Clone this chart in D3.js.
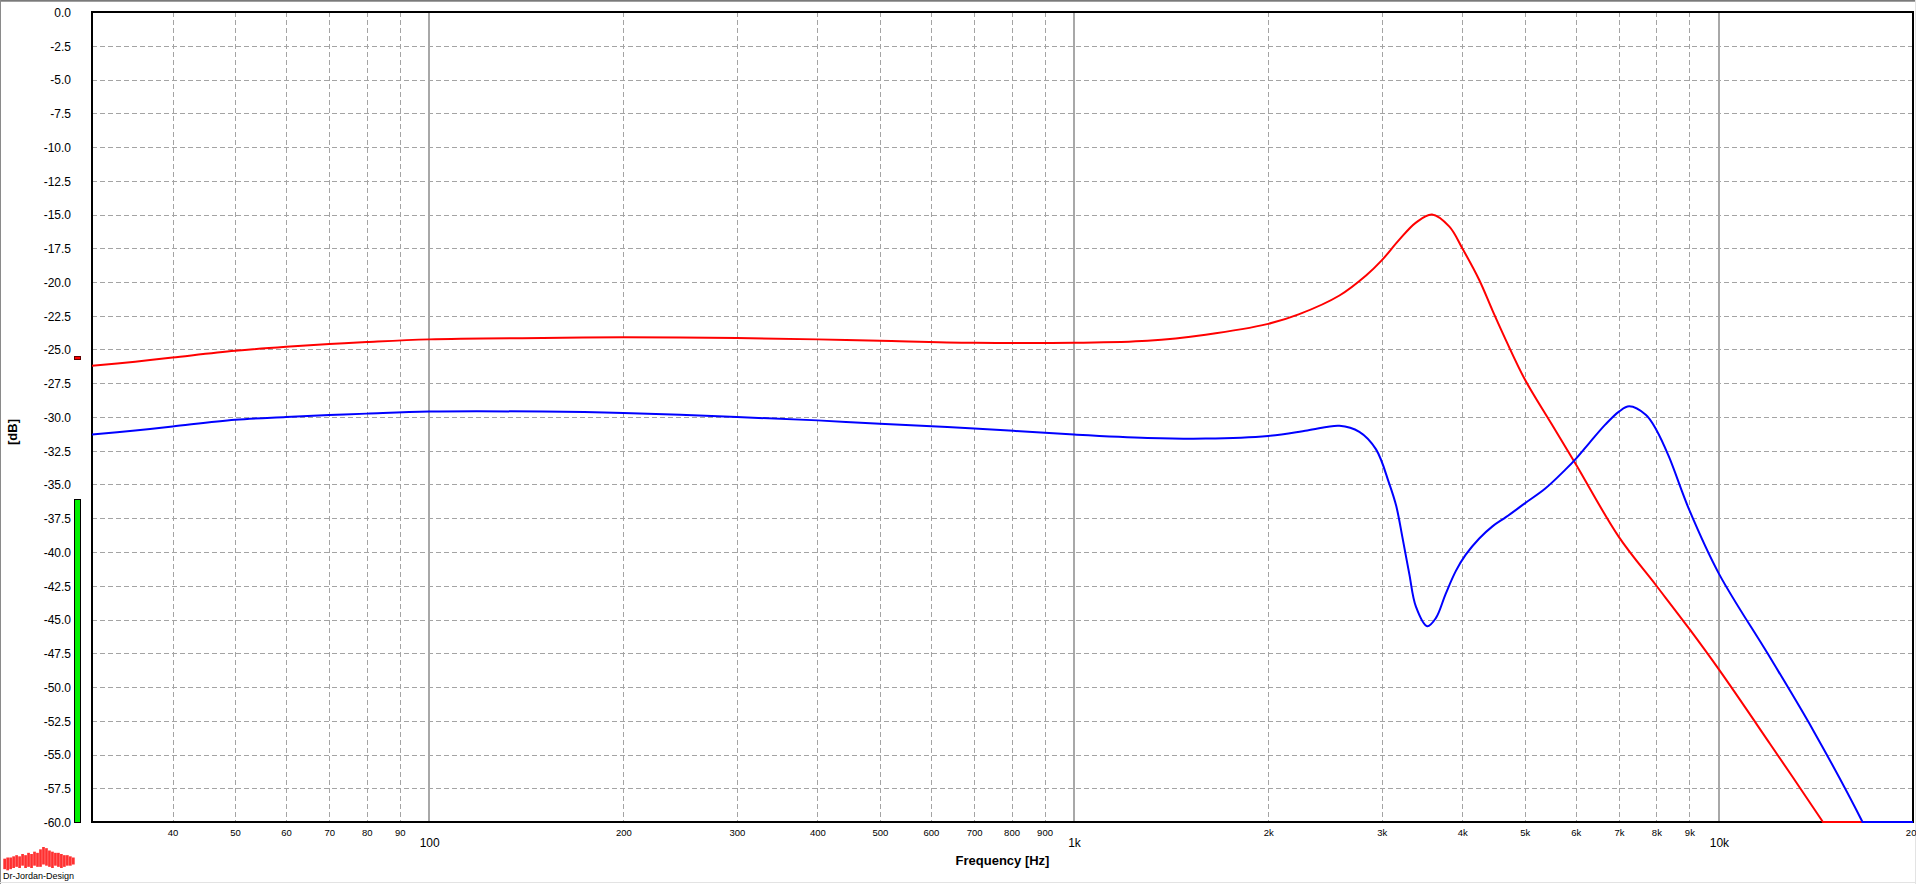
<!DOCTYPE html>
<html><head><meta charset="utf-8">
<script src="https://cdn.jsdelivr.net/npm/d3@7"></script>
<style>
html,body{margin:0;padding:0;background:#fff;overflow:hidden}
svg{display:block;font-family:"Liberation Sans",Arial,sans-serif}
</style></head><body>
<svg id="c" width="1916" height="884"></svg>
<script>
// ---------------- DATA ----------------
const redFreq = [30,35,40,50,60,70,80,100,150,200,300,400,500,700,1000,1300,1600,2000,2230,2580,2840,3000,3190,3390,3590,3820,4000,4250,4455,4674,5000,5500,6000,7000,8000,9000,10000,12000,14500,17000,20000];
const redDb   = [-26.2,-25.9,-25.6,-25.1,-24.8,-24.6,-24.45,-24.25,-24.15,-24.1,-24.15,-24.25,-24.35,-24.5,-24.5,-24.35,-23.9,-23.1,-22.4,-21.0,-19.5,-18.4,-16.9,-15.6,-15.0,-15.9,-17.5,-19.85,-22.1,-24.3,-27.2,-30.5,-33.5,-38.9,-42.5,-45.7,-48.7,-54.2,-60.0,-65.0,-70.0];

const blueFreq = [30,35,40,50,60,70,80,100,150,200,300,400,500,700,1000,1300,1600,2000,2300,2580,2770,2940,3080,3160,3230,3310,3390,3530,3640,3770,3910,4050,4250,4455,4680,5000,5380,5780,6000,6290,6670,7000,7260,7710,8000,8360,9000,10000,12000,14000,16700,20000];
const blueDb   = [-31.3,-31.0,-30.7,-30.2,-30.0,-29.85,-29.75,-29.6,-29.6,-29.7,-30.0,-30.25,-30.5,-30.85,-31.3,-31.55,-31.6,-31.4,-31.0,-30.65,-31.1,-32.4,-34.9,-36.6,-38.9,-41.6,-44.05,-45.5,-44.9,-43.1,-41.4,-40.2,-39.0,-38.1,-37.4,-36.4,-35.3,-33.9,-33.1,-31.95,-30.55,-29.6,-29.2,-29.85,-30.96,-32.9,-36.9,-41.6,-47.8,-53.2,-60.0,-68.0];

const yTickValues = [0,-2.5,-5,-7.5,-10,-12.5,-15,-17.5,-20,-22.5,-25,-27.5,-30,-32.5,-35,-37.5,-40,-42.5,-45,-47.5,-50,-52.5,-55,-57.5,-60];
const yTickLabels = ["0.0","-2.5","-5.0","-7.5","-10.0","-12.5","-15.0","-17.5","-20.0","-22.5","-25.0","-27.5","-30.0","-32.5","-35.0","-37.5","-40.0","-42.5","-45.0","-47.5","-50.0","-52.5","-55.0","-57.5","-60.0"];

const xMinorValues = [40,50,60,70,80,90,200,300,400,500,600,700,800,900,2000,3000,4000,5000,6000,7000,8000,9000,20000];
const xMinorLabels = ["40","50","60","70","80","90","200","300","400","500","600","700","800","900","2k","3k","4k","5k","6k","7k","8k","9k","20k"];
const xMajorValues = [100,1000,10000];
const xMajorLabels = ["100","1k","10k"];

const levelBarDb = -36.1;   // green level meter top
const levelMarkDb = -25.6;  // red level marker

const logoUp   = [2,3,3,4,5,4,6,5,7,6,8,7,10,12,11,9,8,7,7,6,5,5,4,3];
const logoDown = [7,8,7,6,5,6,4,6,5,6,4,5,5,3,4,5,6,4,5,6,5,4,4,3];

// ---------------- LAYOUT ----------------
const W = 1916, H = 884;
const M = {l:92, r:1913, t:12, b:822};
const x = d3.scaleLog().domain([30,20000]).range([M.l, M.r]);
const y = d3.scaleLinear().domain([0,-60]).range([M.t, M.b]);
const svg = d3.select('#c');
const px = v => Math.round(v) + 0.5;

// outer sunken frame
svg.append('line').attr('x1',0).attr('x2',W).attr('y1',0.5).attr('y2',0.5).attr('stroke','#7a7a7a').attr('stroke-width',1);
svg.append('line').attr('x1',0).attr('x2',W).attr('y1',1.5).attr('y2',1.5).attr('stroke','#a0a0a0').attr('stroke-width',1);
svg.append('line').attr('x1',0.5).attr('x2',0.5).attr('y1',0).attr('y2',H).attr('stroke','#8a8a8a').attr('stroke-width',1);
svg.append('line').attr('x1',0).attr('x2',W).attr('y1',H-1.5).attr('y2',H-1.5).attr('stroke','#e3e3e3').attr('stroke-width',1);
svg.append('line').attr('x1',W-0.5).attr('x2',W-0.5).attr('y1',0).attr('y2',H).attr('stroke','#e3e3e3').attr('stroke-width',1);

// grid
const grid = svg.append('g');
grid.selectAll('.hg').data(yTickValues.filter(v => v !== 0 && v !== -60)).enter().append('line')
  .attr('x1', M.l).attr('x2', M.r)
  .attr('y1', d => px(y(d))).attr('y2', d => px(y(d)))
  .attr('stroke','#a4a4a4').attr('stroke-width',1).attr('stroke-dasharray','5,3');
grid.selectAll('.vg').data(xMinorValues.filter(v => v < 20000)).enter().append('line')
  .attr('x1', d => px(x(d))).attr('x2', d => px(x(d)))
  .attr('y1', M.t).attr('y2', M.b)
  .attr('stroke','#a4a4a4').attr('stroke-width',1).attr('stroke-dasharray','5,3');
grid.selectAll('.vm').data(xMajorValues).enter().append('line')
  .attr('x1', d => Math.round(x(d))).attr('x2', d => Math.round(x(d)))
  .attr('y1', M.t).attr('y2', M.b)
  .attr('stroke','#a8a8a8').attr('stroke-width',2);

// frame
svg.append('rect').attr('x',M.l).attr('y',M.t).attr('width',M.r-M.l).attr('height',M.b-M.t)
  .attr('fill','none').attr('stroke','#000').attr('stroke-width',2);

// curves
svg.append('clipPath').attr('id','pc').append('rect')
  .attr('x',M.l).attr('y',M.t-2).attr('width',M.r-M.l).attr('height',M.b-M.t+3);
const line = d3.line().x(d => x(d[0])).y(d => y(d[1])).curve(d3.curveCatmullRom.alpha(0.5));
const floorLine = d3.line().x(d => x(d[0])).y(d => y(d[1]));
const cg = svg.append('g').attr('clip-path','url(#pc)');
function drawSeries(freqs, dbs, color) {
  const data = freqs.map((f,i) => [f, dbs[i]]);
  cg.append('path').attr('d', line(data)).attr('fill','none').attr('stroke',color).attr('stroke-width',2);
  const under = data.filter(d => d[1] <= -60);
  if (under.length) {
    const fl = [[under[0][0], -60], [x.domain()[1], -60]];
    cg.append('path').attr('d', floorLine(fl)).attr('fill','none').attr('stroke',color).attr('stroke-width',2);
  }
}
drawSeries(redFreq, redDb, '#ff0000');
drawSeries(blueFreq, blueDb, '#0000ff');

// y axis labels
const ya = svg.append('g').attr('transform',`translate(${M.l},0)`)
  .call(d3.axisLeft(y).tickValues(yTickValues).tickFormat((d,i) => yTickLabels[i]).tickSize(0).tickPadding(21));
ya.select('.domain').remove();
ya.selectAll('text').attr('font-size',12).attr('font-family','"Liberation Sans",Arial,sans-serif').attr('fill','#000').attr('dy','0.36em');

// x axis labels
const xa1 = svg.append('g').attr('transform',`translate(0,${M.b})`)
  .call(d3.axisBottom(x).tickValues(xMinorValues).tickFormat((d,i) => xMinorLabels[i]).tickSize(0).tickPadding(7));
xa1.select('.domain').remove();
xa1.selectAll('text').attr('font-size',9.5).attr('font-family','"Liberation Sans",Arial,sans-serif').attr('fill','#000');
const xa2 = svg.append('g').attr('transform',`translate(0,${M.b})`)
  .call(d3.axisBottom(x).tickValues(xMajorValues).tickFormat((d,i) => xMajorLabels[i]).tickSize(0).tickPadding(16));
xa2.select('.domain').remove();
xa2.selectAll('text').attr('font-size',12).attr('font-family','"Liberation Sans",Arial,sans-serif').attr('fill','#000');

// axis titles
svg.append('text').attr('x',(M.l+M.r)/2).attr('y',864.7).attr('text-anchor','middle')
  .attr('font-size',13).attr('font-weight','bold').text('Frequency [Hz]');
svg.append('text').attr('transform','translate(16.5,432) rotate(-90)').attr('text-anchor','middle')
  .attr('font-size',13).attr('font-weight','bold').text('[dB]');

// level meter
svg.append('rect').attr('x',74.5).attr('y',Math.round(y(levelBarDb))+0.5).attr('width',6).attr('height',M.b - Math.round(y(levelBarDb)))
  .attr('fill','#00f000').attr('stroke','#000').attr('stroke-width',1);
svg.append('rect').attr('x',74.5).attr('y',Math.round(y(levelMarkDb))-1.5).attr('width',6).attr('height',3)
  .attr('fill','#ff0000').attr('stroke','#600000').attr('stroke-width',1);

// logo
const lx = d3.scaleBand().domain(d3.range(logoUp.length)).range([3,75]).padding(0.1);
const la = d3.scaleLinear().domain([0,12]).range([0,14]);
const lg = svg.append('g');
lg.selectAll('rect').data(logoUp.map((u,i) => [u, logoDown[i]])).enter().append('rect')
  .attr('x',(d,i) => lx(i)).attr('width',lx.bandwidth())
  .attr('y', d => 861 - la(d[0])).attr('height', d => la(d[0]) + la(d[1]))
  .attr('fill','#ff3030');
svg.append('text').attr('x',3).attr('y',878.5).attr('font-size',9).attr('fill','#000').text('Dr-Jordan-Design');
</script>
</body></html>
